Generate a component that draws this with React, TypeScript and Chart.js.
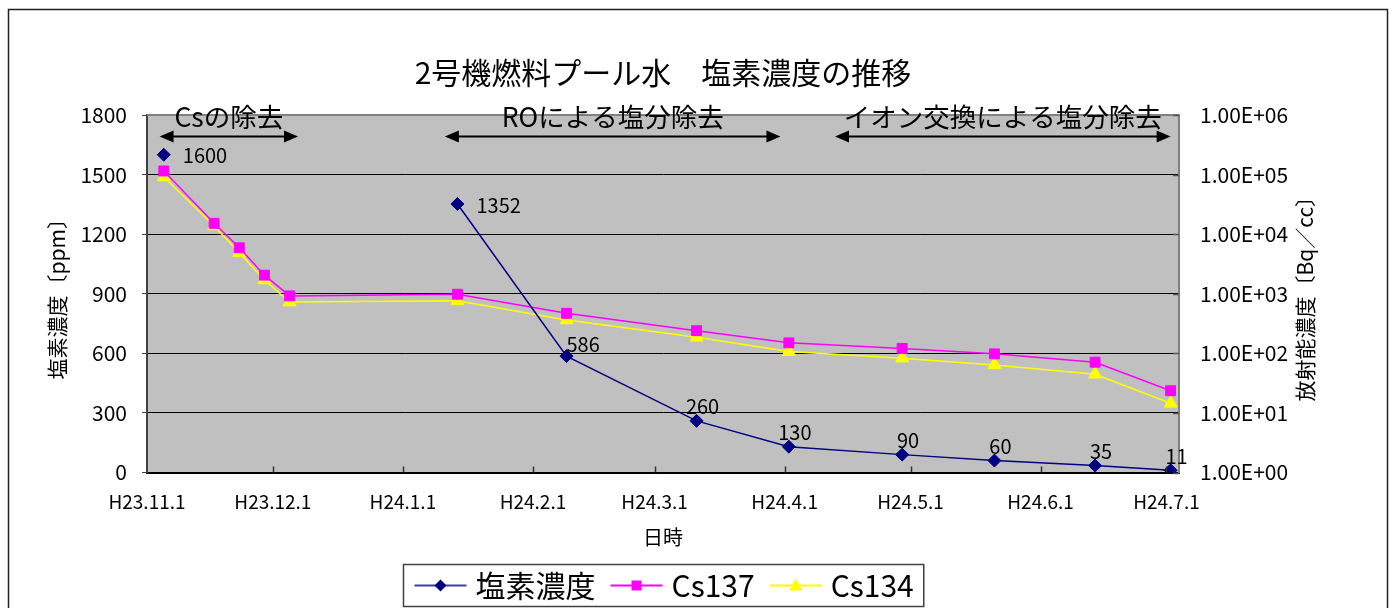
import React, { useEffect, useRef } from 'react';
import { Chart, registerables } from 'chart.js';

Chart.register(...registerables);

const FONT = '"Noto Sans CJK JP", "Noto Sans", sans-serif';

const TITLE = '2号機燃料プール水　塩素濃度の推移';
const X_TITLE = '日時';
const Y_LEFT_TITLE = '塩素濃度〔ppm〕';
const Y_RIGHT_TITLE = '放射能濃度〔Bq／cc〕';

const AXIS_START = '2011-11-01';
const AXIS_END = '2012-07-04';
const TICK_DATES = ['2011-11-01', '2011-12-01', '2012-01-01', '2012-02-01', '2012-03-01', '2012-04-01', '2012-05-01', '2012-06-01', '2012-07-01'];
const TICK_LABELS = ['H23.11.1', 'H23.12.1', 'H24.1.1', 'H24.2.1', 'H24.3.1', 'H24.4.1', 'H24.5.1', 'H24.6.1', 'H24.7.1'];
const LOG_TICKS = [1, 10, 100, 1000, 10000, 100000, 1000000];

const SERIES_NAMES = ['塩素濃度', 'Cs137', 'Cs134'];
const SAMPLE_DATES = ['2011-11-05', '2011-11-17', '2011-11-23', '2011-11-29', '2011-12-05', '2012-01-14', '2012-02-09', '2012-03-11', '2012-04-02', '2012-04-29', '2012-05-21', '2012-06-14', '2012-07-02'];
const CHLORINE_PPM = [1600, null, null, null, null, 1352, 586, 260, 130, 90, 60, 35, 11];
const CS137_BQ = [115000, 15200, 5900, 2050, 920, 980, 470, 240, 150, 121, 98, 71, 23.6];
const CS134_BQ = [91000, 13700, 4900, 1700, 727, 760, 363, 186, 107, 83, 64, 44.6, 14.5];
const CHLORINE_LABEL_PLACEMENT = ['right', '', '', '', '', 'right', 'aboveRight', 'above', 'above', 'above', 'above', 'above', 'above'];

const PHASE_LABELS = ['Csの除去', 'ROによる塩分除去', 'イオン交換による塩分除去'];
const PHASE_STARTS = ['2011-11-04', '2012-01-11', '2012-04-13'];
const PHASE_ENDS = ['2011-12-07', '2012-03-31', '2012-07-02'];
const PHASE_ARROW_LEVEL = 1695;

const COLORS = ['#000080', '#FF00FF', '#FFFF00'];
const POINT_STYLES = ['rectRot', 'rect', 'triangle'];

const dayOf = (s: string) => {
  const [y, m, d] = s.split('-').map(Number);
  const [y0, m0, d0] = AXIS_START.split('-').map(Number);
  return (Date.UTC(y, m - 1, d) - Date.UTC(y0, m0 - 1, d0)) / 86400000;
};

const drawMarker = (ctx: CanvasRenderingContext2D, style: string, x: number, y: number, color: string) => {
  ctx.save();
  ctx.fillStyle = color;
  ctx.beginPath();
  if (style === 'rectRot') {
    const r = 6;
    ctx.moveTo(x, y - r);
    ctx.lineTo(x + r, y);
    ctx.lineTo(x, y + r);
    ctx.lineTo(x - r, y);
    ctx.closePath();
  } else if (style === 'rect') {
    ctx.rect(x - 5, y - 5, 10, 10);
  } else {
    ctx.moveTo(x, y - 7);
    ctx.lineTo(x + 6.5, y + 5);
    ctx.lineTo(x - 6.5, y + 5);
    ctx.closePath();
  }
  ctx.fill();
  ctx.restore();
};

const decorPlugin = {
  id: 'decor',
  beforeDraw(chart: any) {
    const { ctx, chartArea: a, width, height } = chart;
    ctx.save();
    ctx.fillStyle = '#FFFFFF';
    ctx.fillRect(0, 0, width, height);
    ctx.fillStyle = '#C0C0C0';
    ctx.fillRect(a.left, a.top, a.right - a.left, a.bottom - a.top);
    ctx.restore();
  },
  afterDraw(chart: any) {
    const { ctx, chartArea: a } = chart;
    const xs = chart.scales.x;
    const yL = chart.scales.yL;
    const yR = chart.scales.yR;
    ctx.save();

    // outer frame
    ctx.strokeStyle = '#202020';
    ctx.lineWidth = 1.5;
    ctx.strokeRect(8.5, 9.5, 1379, 640);

    // plot top border
    ctx.strokeStyle = '#808080';
    ctx.lineWidth = 2;
    ctx.beginPath();
    ctx.moveTo(a.left, a.top);
    ctx.lineTo(a.right, a.top);
    ctx.stroke();

    // inward ticks on x axis
    ctx.strokeStyle = '#333333';
    ctx.lineWidth = 1.5;
    xs.ticks.forEach((t: any, i: number) => {
      if (i === 0) return;
      const px = Math.round(xs.getPixelForValue(t.value)) + 0.5;
      ctx.beginPath();
      ctx.moveTo(px, a.bottom);
      ctx.lineTo(px, a.bottom - 6);
      ctx.stroke();
    });
    // inward ticks on right axis
    ctx.strokeStyle = '#555555';
    yR.ticks.forEach((t: any) => {
      const py = Math.round(yR.getPixelForValue(t.value)) + 0.5;
      ctx.beginPath();
      ctx.moveTo(a.right - 6, py);
      ctx.lineTo(a.right, py);
      ctx.stroke();
    });

    // title
    ctx.fillStyle = '#000';
    ctx.textAlign = 'center';
    ctx.textBaseline = 'middle';
    ctx.font = `30px ${FONT}`;
    ctx.fillText(TITLE, (a.left + a.right) / 2, a.top - 42);

    // axis titles
    ctx.font = `20px ${FONT}`;
    ctx.fillText(X_TITLE, (a.left + a.right) / 2, a.bottom + 65);
    const cy = (a.top + a.bottom) / 2;
    ctx.font = `21px ${FONT}`;
    ctx.save();
    ctx.translate(a.left - 90, cy);
    ctx.rotate(-Math.PI / 2);
    ctx.fillText(Y_LEFT_TITLE, 0, 0);
    ctx.restore();
    ctx.save();
    ctx.translate(a.right + 126, cy);
    ctx.rotate(-Math.PI / 2);
    ctx.fillText(Y_RIGHT_TITLE, 0, 0);
    ctx.restore();

    // phase arrows
    const ay = Math.round(yL.getPixelForValue(PHASE_ARROW_LEVEL)) + 0.5;
    PHASE_LABELS.forEach((label, i) => {
      const x1 = xs.getPixelForValue(dayOf(PHASE_STARTS[i]));
      const x2 = xs.getPixelForValue(dayOf(PHASE_ENDS[i]));
      const head = 14;
      ctx.strokeStyle = '#000';
      ctx.fillStyle = '#000';
      ctx.lineWidth = 2;
      ctx.beginPath();
      ctx.moveTo(x1 + head - 2, ay);
      ctx.lineTo(x2 - head + 2, ay);
      ctx.stroke();
      ctx.beginPath();
      ctx.moveTo(x1, ay);
      ctx.lineTo(x1 + head, ay - 6);
      ctx.lineTo(x1 + head, ay + 6);
      ctx.closePath();
      ctx.fill();
      ctx.beginPath();
      ctx.moveTo(x2, ay);
      ctx.lineTo(x2 - head, ay - 6);
      ctx.lineTo(x2 - head, ay + 6);
      ctx.closePath();
      ctx.fill();
      ctx.font = `26.5px ${FONT}`;
      ctx.textAlign = 'center';
      ctx.textBaseline = 'middle';
      ctx.fillText(label, (x1 + x2) / 2, ay - 20);
    });

    // data labels for chlorine
    const meta = chart.getDatasetMeta(0);
    ctx.font = `20px ${FONT}`;
    ctx.fillStyle = '#000';
    meta.data.forEach((pt: any, i: number) => {
      const v = CHLORINE_PPM[i];
      if (v == null) return;
      const place = CHLORINE_LABEL_PLACEMENT[i];
      ctx.textBaseline = 'middle';
      if (place === 'right') {
        ctx.textAlign = 'left';
        ctx.fillText(String(v), pt.x + 19, pt.y + 1);
      } else if (place === 'aboveRight') {
        ctx.textAlign = 'left';
        ctx.fillText(String(v), pt.x, pt.y - 12);
      } else {
        ctx.textAlign = 'center';
        ctx.fillText(String(v), pt.x + 6, pt.y - 14);
      }
    });

    // legend
    ctx.font = `30px ${FONT}`;
    const lineLen = 52;
    const gapText = 9;
    const itemGap = 15;
    const padL = 11;
    const padR = 10;
    const widths = SERIES_NAMES.map((n) => ctx.measureText(n).width);
    let total = padL + padR;
    widths.forEach((w, i) => {
      total += lineLen + gapText + w + (i < widths.length - 1 ? itemGap : 0);
    });
    const bx = Math.round((a.left + a.right) / 2 - total / 2) + 0.5;
    const by = 564.5;
    const bh = 42;
    ctx.fillStyle = '#FFFFFF';
    ctx.fillRect(bx, by, total, bh);
    ctx.strokeStyle = '#404040';
    ctx.lineWidth = 1.5;
    ctx.strokeRect(bx, by, total, bh);
    let cx = bx + padL;
    const ly = by + bh / 2;
    SERIES_NAMES.forEach((name, i) => {
      ctx.strokeStyle = i === 0 ? '#4040A0' : COLORS[i];
      ctx.lineWidth = 2;
      ctx.beginPath();
      ctx.moveTo(cx, ly);
      ctx.lineTo(cx + lineLen, ly);
      ctx.stroke();
      drawMarker(ctx, POINT_STYLES[i], cx + lineLen / 2, ly, COLORS[i]);
      ctx.fillStyle = '#000';
      ctx.textAlign = 'left';
      ctx.textBaseline = 'middle';
      ctx.fillText(name, cx + lineLen + gapText, ly);
      cx += lineLen + gapText + widths[i] + itemGap;
    });

    ctx.restore();
  },
};

export default function App() {
  const ref = useRef<HTMLCanvasElement | null>(null);

  useEffect(() => {
    if (!ref.current) return;
    const xy = (vals: (number | null)[]) => SAMPLE_DATES.map((d, i) => ({ x: dayOf(d), y: vals[i] }));
    const chart = new Chart(ref.current, {
      type: 'line',
      data: {
        datasets: [
          {
            label: SERIES_NAMES[0],
            data: xy(CHLORINE_PPM),
            yAxisID: 'yL',
            borderColor: COLORS[0],
            backgroundColor: COLORS[0],
            pointBorderColor: COLORS[0],
            borderWidth: 1.5,
            pointStyle: 'rectRot',
            pointRadius: 6.5,
            pointBorderWidth: 1,
            spanGaps: false,
          },
          {
            label: SERIES_NAMES[1],
            data: xy(CS137_BQ),
            yAxisID: 'yR',
            borderColor: COLORS[1],
            backgroundColor: COLORS[1],
            pointBorderColor: COLORS[1],
            borderWidth: 1.5,
            pointStyle: 'rect',
            pointRadius: 7,
            pointBorderWidth: 1,
          },
          {
            label: SERIES_NAMES[2],
            data: xy(CS134_BQ),
            yAxisID: 'yR',
            borderColor: COLORS[2],
            backgroundColor: COLORS[2],
            pointBorderColor: COLORS[2],
            borderWidth: 1.5,
            pointStyle: 'triangle',
            pointRadius: 7.5,
            pointBorderWidth: 1,
          },
        ],
      } as any,
      options: {
        animation: false,
        responsive: false,
        devicePixelRatio: 1,
        layout: { padding: { top: 115, left: 0, right: 0, bottom: 0 } },
        plugins: {
          legend: { display: false },
          title: { display: false },
          tooltip: { enabled: false },
        },
        elements: { line: { tension: 0 } },
        scales: {
          x: {
            type: 'linear',
            min: dayOf(AXIS_START),
            max: dayOf(AXIS_END),
            afterBuildTicks: (scale: any) => {
              scale.ticks = TICK_DATES.map((d) => ({ value: dayOf(d) }));
            },
            afterFit: (scale: any) => {
              scale.height = 135.5;
            },
            grid: { display: true, drawOnChartArea: false, drawTicks: false },
            border: { display: true, color: '#000000', width: 2 },
            ticks: {
              autoSkip: false,
              maxRotation: 0,
              padding: 18,
              color: '#000',
              font: { family: FONT, size: 19 },
              callback: (_v: any, i: number) => TICK_LABELS[i],
            },
          },
          yL: {
            type: 'linear',
            position: 'left',
            min: 0,
            max: 1800,
            afterFit: (scale: any) => {
              scale.width = 147;
            },
            ticks: {
              stepSize: 300,
              padding: 15,
              color: '#000',
              font: { family: FONT, size: 21 },
              callback: (v: any) => String(v),
            },
            grid: { color: '#000000', lineWidth: 1, tickLength: 5, tickColor: '#404040' },
            border: { display: true, color: '#404040', width: 2 },
          },
          yR: {
            type: 'logarithmic',
            position: 'right',
            min: 1,
            max: 1000000,
            afterBuildTicks: (scale: any) => {
              scale.ticks = LOG_TICKS.map((v) => ({ value: v, major: true }));
            },
            afterFit: (scale: any) => {
              scale.width = 1392 - 1179;
            },
            ticks: {
              padding: 21,
              color: '#000',
              font: { family: FONT, size: 21 },
              callback: (v: any) => {
                const e = Math.round(Math.log10(Number(v)));
                return `1.00E+${String(e).padStart(2, '0')}`;
              },
            },
            grid: { drawOnChartArea: false, drawTicks: false },
            border: { display: true, color: '#808080', width: 2 },
          },
        },
      } as any,
      plugins: [decorPlugin],
    });
    return () => chart.destroy();
  }, []);

  return (
    <div style={{ position: 'fixed', left: 0, top: 0, width: 1392, height: 608, background: '#fff' }}>
      <canvas ref={ref} width={1392} height={608} style={{ display: 'block', width: 1392, height: 608 }} />
    </div>
  );
}
